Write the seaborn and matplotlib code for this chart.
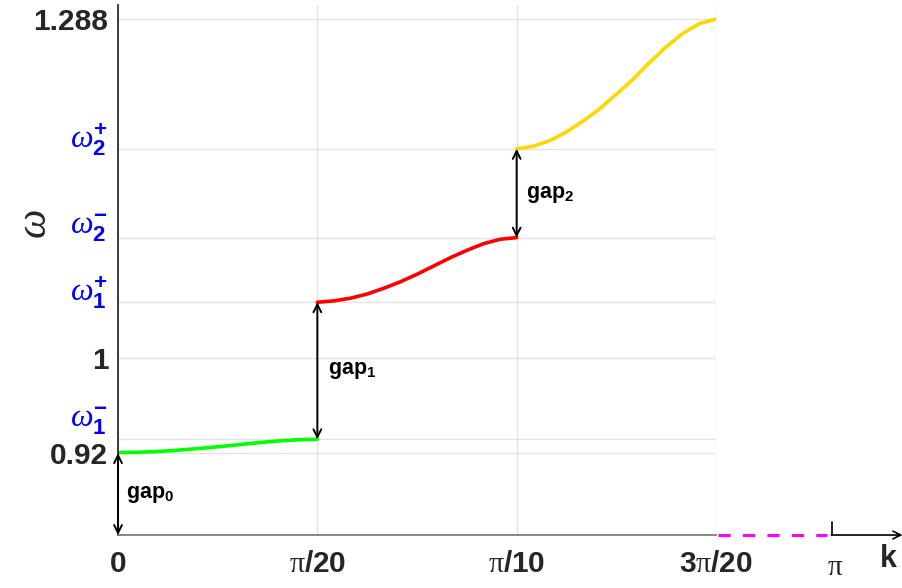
import numpy as np
import pandas as pd
import matplotlib.pyplot as plt
import seaborn as sns

# band edges
w1m = 0.9313
w1p = 1.0476
w2m = 1.1025
w2p = 1.1778
w_min = 0.92
w_max = 1.288

# dispersion curves, 13 samples per branch over each pi/20 interval
k_step = np.pi / 20 / 12
band0 = [0.9200, 0.9202, 0.9207, 0.9214, 0.9225, 0.9236, 0.9249,
         0.9263, 0.9278, 0.9291, 0.9302, 0.9310, 0.9313]
band1 = [1.0476, 1.0488, 1.0511, 1.0546, 1.0595, 1.0650, 1.0714,
         1.0784, 1.0854, 1.0917, 1.0973, 1.1011, 1.1025]
band2 = [1.1778, 1.1801, 1.1849, 1.1922, 1.2014, 1.2119, 1.2241,
         1.2369, 1.2511, 1.2644, 1.2758, 1.2842, 1.2880]
band_colors = ['#00ff00', '#ff0000', '#ffd700']

xticks = [0, np.pi / 20, np.pi / 10, 3 * np.pi / 20]
xticklabels = ['0', r'$\mathrm{\pi}$/20', r'$\mathrm{\pi}$/10', r'3$\mathrm{\pi}$/20']
yticks = [w_min, w1m, 1.0, w1p, w2m, w2p, w_max]
yticklabels = ['0.92', r'$\omega_{\mathbf{1}}^{\mathbf{-}}$', '1',
               r'$\omega_{\mathbf{1}}^{\mathbf{+}}$', r'$\omega_{\mathbf{2}}^{\mathbf{-}}$',
               r'$\omega_{\mathbf{2}}^{\mathbf{+}}$', '1.288']
ytick_is_omega = [False, True, False, True, True, True, False]

rows = []
for i, band in enumerate([band0, band1, band2]):
    for j, w in enumerate(band):
        rows.append({'k': i * np.pi / 20 + j * k_step, 'omega': w, 'band': i})
df = pd.DataFrame(rows)

sns.set_theme(style='white')
plt.rcParams['font.family'] = ['Liberation Sans', 'DejaVu Sans']
plt.rcParams['mathtext.fontset'] = 'custom'
plt.rcParams['mathtext.rm'] = 'Liberation Serif'
plt.rcParams['mathtext.bf'] = 'Liberation Sans:bold'
plt.rcParams['mathtext.it'] = 'Liberation Serif:italic'

fig = plt.figure(figsize=(9.03, 5.88), dpi=100)
ax = fig.add_axes([0.1307, 0.0901, 0.6622, 0.9014])

for i in range(3):
    sns.lineplot(data=df[df['band'] == i], x='k', y='omega', color=band_colors[i],
                 linewidth=2.6, ax=ax, legend=False, solid_joinstyle='round')

ax.set_xlim(0, 3 * np.pi / 20)
ax.set_ylim(0.85, 1.3)
ax.set_xticks(xticks)
ax.set_xticklabels(xticklabels)
ax.set_yticks(yticks)
ax.set_yticklabels([('' if om else lab) for lab, om in zip(yticklabels, ytick_is_omega)])
ax.grid(True, color='#e3e3e3', linewidth=1)
for lab in ax.get_xticklabels() + ax.get_yticklabels():
    lab.set_fontsize(21.5)
    lab.set_fontweight('bold')
    lab.set_color('#262626')
ax.tick_params(direction='in', length=6, width=1, color='#444444', pad=7)
ax.tick_params(axis='x', pad=11)
ax.set_xlabel('')
ax.set_ylabel(r'$\omega$', fontsize=30, color='#262626', rotation=90)
ax.yaxis.set_label_coords(-0.105, 0.587)

# omega tick labels, in blue, sitting a little above their ticks
ytr = ax.get_yaxis_transform()
for w, lab, om in zip(yticks, yticklabels, ytick_is_omega):
    if om:
        dy = 13 if w == w1m else 7
        ax.annotate(lab, xy=(0, w), xycoords=ytr, xytext=(-7, dy), textcoords='offset points',
                    ha='right', va='center', fontsize=23, color='#0000ff',
                    annotation_clip=False)

for side in ['top', 'right']:
    ax.spines[side].set_visible(False)
ax.spines['left'].set_color('#262626')
ax.spines['bottom'].set_color('#777777')

# gap arrows
arrow = dict(arrowstyle='<->', lw=1.4, color='black', shrinkA=0, shrinkB=0, mutation_scale=14)
ax.annotate('', xy=(0, 0.85), xytext=(0, w_min - 0.0005), arrowprops=arrow, annotation_clip=False)
ax.annotate('', xy=(np.pi / 20, w1m), xytext=(np.pi / 20, w1p), arrowprops=arrow)
ax.annotate('', xy=(np.pi / 10, w2m), xytext=(np.pi / 10, w2p), arrowprops=arrow)
gap_kw = dict(fontsize=15.5, fontweight='bold', color='black', va='center', ha='left',
              textcoords='offset points')
ax.annotate(r'gap$_\mathbf{0}$', xy=(0, 0.884), xytext=(6, 0), **gap_kw)
ax.annotate(r'gap$_\mathbf{1}$', xy=(np.pi / 20, (w1m + w1p) / 2), xytext=(8, 0), **gap_kw)
ax.annotate(r'gap$_\mathbf{2}$', xy=(np.pi / 10, (w2m + w2p) / 2), xytext=(7, -1), **gap_kw)

# broken axis tail: dashed segment, then the axis near pi
tr = ax.transAxes
ax.plot([1.003, 1.186], [0, 0], transform=tr, color='#ff00ff', linestyle=(0, (4, 4)),
        linewidth=2.2, clip_on=False)
ax.plot([1.194, 1.194], [0, 0.025], transform=tr, color='black', linewidth=1.2, clip_on=False)
ax.annotate('', xy=(1.312, 0), xytext=(1.193, 0), xycoords=tr, textcoords=tr,
            arrowprops=dict(arrowstyle='->', lw=1.2, color='black', shrinkA=0, shrinkB=0,
                            mutation_scale=14), annotation_clip=False)
ax.text(1.2, -0.06, r'$\mathrm{\pi}$', transform=tr, fontsize=21, ha='center', va='center',
        color='#262626')
ax.text(1.289, -0.046, 'k', transform=tr, fontsize=22, fontweight='bold', ha='center',
        va='center', color='#262626')

fig.savefig('out.png', dpi=100)
